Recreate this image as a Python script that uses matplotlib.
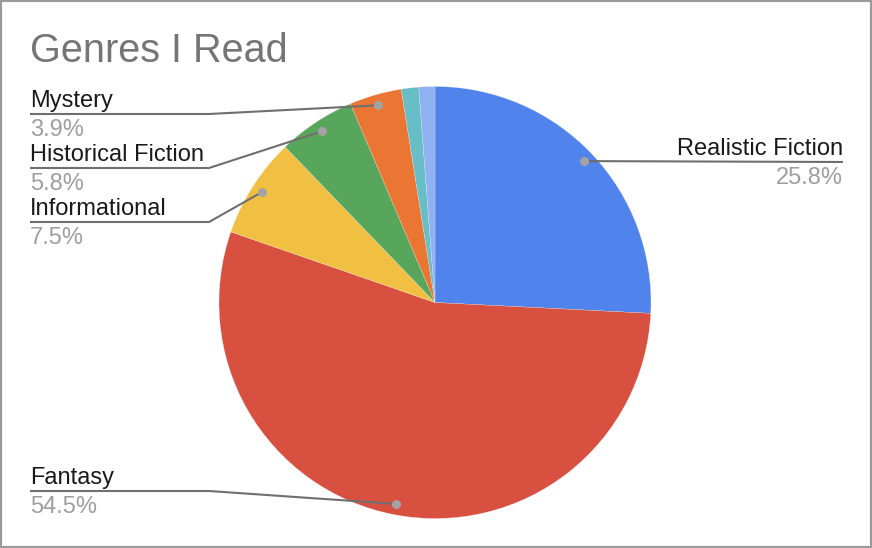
import numpy as np
import matplotlib
matplotlib.use("Agg")
import matplotlib.pyplot as plt
from matplotlib.patches import Rectangle

plt.rcParams['font.family'] = ['Liberation Sans', 'DejaVu Sans']

genres = ["Realistic Fiction", "Fantasy", "Informational", "Historical Fiction",
          "Mystery", "", ""]
shares = [25.8, 54.5, 7.5, 5.8, 3.9, 1.3, 1.2]
colors = ["#5083ec", "#d85140", "#f1bf42", "#58a55c", "#eb7532", "#67bec6", "#8fb2f3"]

# label layout (pixels, y from top): line y, elbow x, end x
label_pos = {
    "Realistic Fiction": (162, None, 843),
    "Fantasy": (491, 209, 30),
    "Informational": (222, 209, 30),
    "Historical Fiction": (168, 209, 30),
    "Mystery": (114, 209, 30),
}

W, H = 872, 548
CX, CY, R = 435, 302.5, 216

fig = plt.figure(figsize=(W / 100, H / 100), dpi=100)
fig.patch.set_facecolor("white")

ax = fig.add_axes([(CX - R) / W, (H - CY - R) / H, 2 * R / W, 2 * R / H])
wedges, _ = ax.pie(shares, colors=colors, startangle=90, counterclock=False,
                   wedgeprops=dict(edgecolor="#f4f4f4", linewidth=0.15))
ax.set_xlim(-1, 1)
ax.set_ylim(-1, 1)
ax.set_aspect("equal")
ax.axis("off")

ov = fig.add_axes([0, 0, 1, 1], zorder=5)
ov.set_xlim(0, W)
ov.set_ylim(H, 0)
ov.axis("off")
ov.patch.set_alpha(0)

ov.text(30, 62, "Genres I Read", fontsize=28.5, color="#757575", va="baseline")

for w, name, v in zip(wedges, genres, shares):
    if name not in label_pos:
        continue
    mid = np.deg2rad((w.theta1 + w.theta2) / 2)
    dx = CX + 0.95 * R * np.cos(mid)
    dy = CY - 0.95 * R * np.sin(mid)
    ly, ex, endx = label_pos[name]
    if ex is None:
        xs, ys = [dx, endx], [dy, ly]
        ha = "right"
    else:
        xs, ys = [dx, ex, endx], [dy, ly, ly]
        ha = "left"
    ov.plot(xs, ys, color="#6f6f6f", lw=1.5, solid_capstyle="butt")
    ov.plot(dx, dy, "o", ms=6.5, color="#a3a3a3", mec="none")
    ov.text(endx, ly - 7, name, fontsize=17, color="#1a1a1a", ha=ha, va="baseline")
    ov.text(endx, ly + 22, f"{v:.1f}%", fontsize=17, color="#9e9e9e", ha=ha, va="baseline")

fig.patches.append(Rectangle((0, 0), 1, 1, transform=fig.transFigure, fill=False,
                             edgecolor="#9a9a9a", linewidth=3))

fig.savefig("out.png", dpi=100)
